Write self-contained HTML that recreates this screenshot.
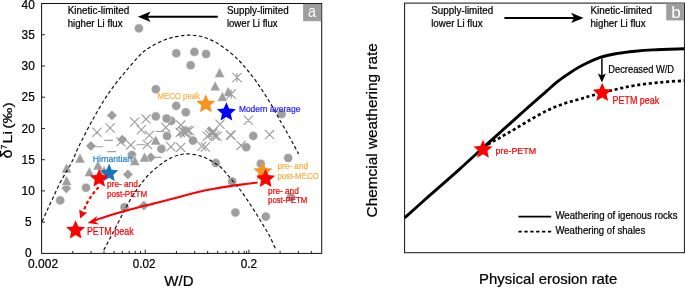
<!DOCTYPE html>
<html><head><meta charset="utf-8"><title>Li isotope weathering regimes</title>
<style>html,body{margin:0;padding:0;background:#fff}svg{display:block}text{font-family:"Liberation Sans",sans-serif;stroke-width:0.22px}text[fill="#000"],g[fill="#000"] text{stroke:#000}text[fill="#ff0000"]{stroke:#ff0000}text[fill="#fbb040"]{stroke:#fbb040}text[fill="#1c1cff"]{stroke:#1c1cff}text[fill="#2581d4"]{stroke:#2581d4}svg{will-change:transform}</style></head><body>
<svg width="685" height="288" viewBox="0 0 685 288">
<rect width="685" height="288" fill="#fff"/>
<g fill="#9e9e9e" stroke="#fff" stroke-width="0.5">
<circle cx="138.9" cy="28.4" r="4.55"/>
<circle cx="176.3" cy="53.3" r="4.55"/>
<circle cx="194.4" cy="51.9" r="4.55"/>
<circle cx="206.1" cy="54" r="4.55"/>
<circle cx="190.7" cy="65.3" r="4.55"/>
<circle cx="155.8" cy="89.2" r="4.55"/>
<circle cx="176.2" cy="105.9" r="4.55"/>
<circle cx="185.8" cy="112.2" r="4.55"/>
<circle cx="171.3" cy="120.9" r="4.55"/>
<circle cx="155.8" cy="116.4" r="4.55"/>
<circle cx="166.6" cy="118.5" r="4.55"/>
<circle cx="167" cy="136" r="4.55"/>
<circle cx="193" cy="140.6" r="4.55"/>
<circle cx="161.4" cy="148.9" r="4.55"/>
<circle cx="131.9" cy="155" r="4.55"/>
<circle cx="253.3" cy="135.9" r="4.55"/>
<circle cx="246.3" cy="147.2" r="4.55"/>
<circle cx="281.6" cy="114" r="4.55"/>
<circle cx="288.2" cy="158" r="4.55"/>
<circle cx="260.8" cy="163.7" r="4.55"/>
<circle cx="215.8" cy="163" r="4.55"/>
<circle cx="232.2" cy="181.5" r="4.55"/>
<circle cx="291" cy="197.3" r="4.55"/>
<circle cx="235.4" cy="212.5" r="4.55"/>
<circle cx="265.8" cy="216.6" r="4.55"/>
<circle cx="86" cy="187.7" r="4.55"/>
<circle cx="60.2" cy="200.4" r="4.55"/>
<circle cx="124.5" cy="207.2" r="4.55"/>
<polygon points="111.9,110.2 117.1,115.4 111.9,120.6 106.7,115.4"/>
<polygon points="122.2,134.5 127.4,139.7 122.2,144.9 117,139.7"/>
<polygon points="90.9,140.7 96.1,145.9 90.9,151.1 85.7,145.9"/>
<polygon points="150.8,152.2 156,157.4 150.8,162.6 145.6,157.4"/>
<polygon points="127.9,169.2 133.1,174.4 127.9,179.6 122.7,174.4"/>
<polygon points="66.3,183 71.5,188.2 66.3,193.4 61.1,188.2"/>
<polygon points="143.9,200.4 149.1,205.6 143.9,210.8 138.7,205.6"/>
<polygon points="219.6,67.6 214.45,77.5 224.75,77.5"/>
<polygon points="215.2,80.9 210.05,90.8 220.35,90.8"/>
<polygon points="228.3,86.5 223.15,96.4 233.45,96.4"/>
<polygon points="222.4,91.4 217.25,101.3 227.55,101.3"/>
<polygon points="155.8,135 150.65,144.9 160.95,144.9"/>
<polygon points="80,153 74.85,162.9 85.15,162.9"/>
<polygon points="66.5,163 61.35,172.9 71.65,172.9"/>
<polygon points="66.6,175.5 61.45,185.4 71.75,185.4"/>
<polygon points="89.4,166.7 84.25,176.6 94.55,176.6"/>
<polygon points="98,160.1 92.85,170 103.15,170"/>
<polygon points="104,165.5 98.85,175.4 109.15,175.4"/>
<polygon points="134.8,155.6 129.65,165.5 139.95,165.5"/>
<polygon points="144.5,152.1 139.35,162 149.65,162"/>
</g>
<path d="M92.4 127.7L101.6 136.9M92.4 136.9L101.6 127.7M105.5 123.4L114.7 132.6M105.5 132.6L114.7 123.4M130.1 117.4L139.3 126.6M130.1 126.6L139.3 117.4M141.5 114.5L150.7 123.7M141.5 123.7L150.7 114.5M136.7 125.1L145.9 134.3M136.7 134.3L145.9 125.1M144.8 130.6L154 139.8M144.8 139.8L154 130.6M116.4 137.2L125.6 146.4M116.4 146.4L125.6 137.2M126.2 140.3L135.4 149.5M126.2 149.5L135.4 140.3M142.8 139.8L152 149M142.8 149L152 139.8M161.2 122.8L170.4 132M161.2 132L170.4 122.8M176.2 120.5L185.4 129.7M176.2 129.7L185.4 120.5M175.7 127.8L184.9 137M175.7 137L184.9 127.8M178.2 126.6L187.4 135.8M178.2 135.8L187.4 126.6M180.4 128.6L189.6 137.8M180.4 137.8L189.6 128.6M182.6 125.8L191.8 135M182.6 135L191.8 125.8M184.7 126.2L193.9 135.4M184.7 135.4L193.9 126.2M215.4 119.7L224.6 128.9M215.4 128.9L224.6 119.7M202.8 131.6L212 140.8M202.8 140.8L212 131.6M205 130L214.2 139.2M205 139.2L214.2 130M206.8 128.4L216 137.6M206.8 137.6L216 128.4M208 127.2L217.2 136.4M208 136.4L217.2 127.2M210 131.2L219.2 140.4M210 140.4L219.2 131.2M212.4 131.6L221.6 140.8M212.4 140.8L221.6 131.6M225.8 130.4L235 139.6M225.8 139.6L235 130.4M166.2 142.2L175.4 151.4M166.2 151.4L175.4 142.2M176.1 142.8L185.3 152M176.1 152L185.3 142.8M197.2 141.7L206.4 150.9M197.2 150.9L206.4 141.7M200.7 142.4L209.9 151.6M200.7 151.6L209.9 142.4M243.8 115.7L253 124.9M243.8 124.9L253 115.7M226.5 130.6L235.7 139.8M226.5 139.8L235.7 130.6M265 130L274.2 139.2M265 139.2L274.2 130M236.4 140.8L245.6 150M236.4 150L245.6 140.8M207.4 127.9L216.6 137.1M207.4 137.1L216.6 127.9M208.7 126.6L217.9 135.8M208.7 135.8L217.9 126.6M208.3 128.8L217.5 138M208.3 138L217.5 128.8M181.4 127.6L190.6 136.8M181.4 136.8L190.6 127.6M179.4 127.4L188.6 136.6M179.4 136.6L188.6 127.4M232.4 72.9L241.6 82.1M232.4 82.1L241.6 72.9M237 72.9L237 82.1M226.6 89.5L235.8 98.7M226.6 98.7L235.8 89.5M231.2 89.5L231.2 98.7M155.8 131.5L164.4 131.5M104.3 140.4L113 140.4M94.8 146.7L103.2 146.7M136.4 144.7L145.2 144.7M107.3 151.6L116.1 151.6M153.4 157.4L161.6 157.4" fill="none" stroke="#9e9e9e" stroke-width="1.15"/>
<path d="M42.2 221.5C43.08 219.5 45.62 213.62 47.5 209.5C49.38 205.38 51.38 201.3 53.5 196.8C55.62 192.3 57.93 186.88 60.2 182.5C62.47 178.12 64.98 174.28 67.1 170.5C69.22 166.72 71.25 163.17 72.9 159.8C74.55 156.43 75.5 153.55 77 150.3C78.5 147.05 79.32 145.35 81.9 140.3C84.48 135.25 88.73 126.8 92.5 120C96.27 113.2 100.75 105.42 104.5 99.5C108.25 93.58 111.42 89.25 115 84.5C118.58 79.75 121.83 75.92 126 71C130.17 66.08 136 58.97 140 55C144 51.03 145.83 49.73 150 47.2C154.17 44.67 160.33 41.62 165 39.8C169.67 37.98 173.92 37.08 178 36.3C182.08 35.52 185.5 35.03 189.5 35.1C193.5 35.17 197.75 35.55 202 36.7C206.25 37.85 210.67 39.65 215 42C219.33 44.35 224.12 47.83 228 50.8C231.88 53.77 235.13 56.67 238.3 59.8C241.47 62.93 243.95 65.9 247 69.6C250.05 73.3 253.53 77.73 256.6 82C259.67 86.27 262.62 90.83 265.4 95.2C268.18 99.57 270.87 103.98 273.3 108.2C275.73 112.42 277.67 116.37 280 120.5C282.33 124.63 285.13 129.17 287.3 133C289.47 136.83 291.12 140 293 143.5C294.88 147 297.67 152.25 298.6 154" fill="none" stroke="#111" stroke-width="1.2" stroke-dasharray="3.5 2.5"/>
<path d="M103.8 250C104.25 249.17 105.13 247.58 106.5 245C107.87 242.42 109.92 238.5 112 234.5C114.08 230.5 116.75 225.33 119 221C121.25 216.67 123.33 212.53 125.5 208.5C127.67 204.47 129.58 200.68 132 196.8C134.42 192.92 137.18 188.93 140 185.2C142.82 181.47 145.57 177.78 148.9 174.4C152.23 171.02 156.95 167.32 160 164.9C163.05 162.48 164.37 161.47 167.2 159.9C170.03 158.33 173.58 156.52 177 155.5C180.42 154.48 183.87 153.73 187.7 153.8C191.53 153.87 196.62 155 200 155.9C203.38 156.8 205.37 157.88 208 159.2C210.63 160.52 213.43 162.23 215.8 163.8C218.17 165.37 219.3 165.62 222.2 168.6C225.1 171.58 230.23 178.22 233.2 181.7C236.17 185.18 237.43 186.12 240 189.5C242.57 192.88 245.77 197.75 248.6 202C251.43 206.25 254.53 211.08 257 215C259.47 218.92 261.3 222 263.4 225.5C265.5 229 267.52 231.95 269.6 236C271.68 240.05 274.85 247.5 275.9 249.8" fill="none" stroke="#111" stroke-width="1.2" stroke-dasharray="3.5 2.5"/>
<path d="M257.6 182.5C255.95 182.72 252.27 183.2 247.7 183.8C243.13 184.4 236.05 185.23 230.2 186.1C224.35 186.97 218.45 187.9 212.6 189C206.75 190.1 200.95 191.3 195.1 192.7C189.25 194.1 183.35 195.85 177.5 197.4C171.65 198.95 164.55 200.83 160 202C155.45 203.17 153.3 203.63 150.2 204.4C147.1 205.17 145.78 205.47 141.4 206.6C137.02 207.73 129.75 209.57 123.9 211.2C118.05 212.83 110.7 215.03 106.3 216.4C101.9 217.77 99.63 218.65 97.5 219.4C95.37 220.15 94.17 220.65 93.5 220.9" fill="none" stroke="#ff0000" stroke-width="2.1"/>
<polygon points="87.6,223 97.2,215.9 94.9,221.3 99,224.6" fill="#ff0000"/>
<path d="M98.6 187.2 C95 191 88 199 84.2 209.5" fill="none" stroke="#ff0000" stroke-width="2.1" stroke-dasharray="3.4 2.4"/>
<polygon points="80.2,218.5 79.2,209.6 83.4,211.9 87.2,212.4" fill="#ff0000"/>
<polygon points="205.8,94.2 208.5,100.48 215.31,101.11 210.17,105.62 211.68,112.29 205.8,108.8 199.92,112.29 201.43,105.62 196.29,101.11 203.1,100.48" fill="#f7941d"/>
<polygon points="226.4,102.3 229.1,108.58 235.91,109.21 230.77,113.72 232.28,120.39 226.4,116.9 220.52,120.39 222.03,113.72 216.89,109.21 223.7,108.58" fill="#0000ff"/>
<polygon points="109.1,163.6 111.72,169.69 118.33,170.3 113.34,174.68 114.8,181.15 109.1,177.76 103.4,181.15 104.86,174.68 99.87,170.3 106.48,169.69" fill="#1c75bc"/>
<polygon points="99.2,168.7 101.88,174.92 108.62,175.54 103.53,180.01 105.02,186.61 99.2,183.15 93.38,186.61 94.87,180.01 89.78,175.54 96.52,174.92" fill="#ff0000"/>
<polygon points="262.8,161.6 265.5,167.88 272.31,168.51 267.17,173.02 268.68,179.69 262.8,176.2 256.92,179.69 258.43,173.02 253.29,168.51 260.1,167.88" fill="#f7941d"/>
<polygon points="265.6,168.8 268.3,175.08 275.11,175.71 269.97,180.22 271.48,186.89 265.6,183.4 259.72,186.89 261.23,180.22 256.09,175.71 262.9,175.08" fill="#ff0000"/>
<polygon points="75.6,220.3 78.3,226.58 85.11,227.21 79.97,231.72 81.48,238.39 75.6,234.9 69.72,238.39 71.23,231.72 66.09,227.21 72.9,226.58" fill="#ff0000"/>
<rect x="41.6" y="3.5" width="280.1" height="249.9" fill="none" stroke="#111" stroke-width="1"/>
<path d="M41.6 222.16h3.4M41.6 190.93h3.4M41.6 159.69h3.4M41.6 128.45h3.4M41.6 97.21h3.4M41.6 65.97h3.4M41.6 34.74h3.4M72.8 253.4v-2.6M91.05 253.4v-2.6M104 253.4v-2.6M114.05 253.4v-2.6M122.26 253.4v-2.6M129.19 253.4v-2.6M135.21 253.4v-2.6M140.51 253.4v-2.6M176.45 253.4v-2.6M194.7 253.4v-2.6M207.65 253.4v-2.6M217.7 253.4v-2.6M225.91 253.4v-2.6M232.84 253.4v-2.6M238.86 253.4v-2.6M244.16 253.4v-2.6M246.59 253.4v-2.6M280.1 253.4v-2.6M298.35 253.4v-2.6M311.3 253.4v-2.6M145.25 253.4v-3.8M248.9 253.4v-3.8" fill="none" stroke="#111" stroke-width="0.9"/>
<text x="28.2" y="256.8" font-size="11.9" fill="#000" text-anchor="middle">0</text>
<text x="28.2" y="226.41" font-size="11.9" fill="#000" text-anchor="middle">5</text>
<text x="28.2" y="195.18" font-size="11.9" fill="#000" text-anchor="middle">10</text>
<text x="28.2" y="163.94" font-size="11.9" fill="#000" text-anchor="middle">15</text>
<text x="28.2" y="132.7" font-size="11.9" fill="#000" text-anchor="middle">20</text>
<text x="28.2" y="101.46" font-size="11.9" fill="#000" text-anchor="middle">25</text>
<text x="28.2" y="70.22" font-size="11.9" fill="#000" text-anchor="middle">30</text>
<text x="28.2" y="38.99" font-size="11.9" fill="#000" text-anchor="middle">35</text>
<text x="28.2" y="8.9" font-size="11.9" fill="#000" text-anchor="middle">40</text>
<text x="43.1" y="267.9" font-size="11.9" fill="#000" text-anchor="middle" textLength="30" lengthAdjust="spacingAndGlyphs">0.002</text>
<text x="144.1" y="267.9" font-size="11.9" fill="#000" text-anchor="middle" textLength="22.6" lengthAdjust="spacingAndGlyphs">0.02</text>
<text x="248.9" y="267.9" font-size="11.9" fill="#000" text-anchor="middle" textLength="16.3" lengthAdjust="spacingAndGlyphs">0.2</text>
<text x="164.3" y="285.6" font-size="14.2" fill="#000" textLength="29.2" lengthAdjust="spacingAndGlyphs">W/D</text>
<g transform="translate(11.9 158.2) rotate(-90)" fill="#000">
<text x="-0.4" y="0" font-size="16.2">&#948;</text>
<text x="9.0" y="-5.0" font-size="8.2">7</text>
<text x="14.8" y="0" font-size="13.4" textLength="12.4" lengthAdjust="spacingAndGlyphs">Li</text>
<text x="29.5" y="0" font-size="13.4" textLength="26.4" lengthAdjust="spacingAndGlyphs">(&#8240;)</text>
</g>
<text x="67.7" y="14.4" font-size="10.1" fill="#000" textLength="61.7" lengthAdjust="spacingAndGlyphs">Kinetic-limited</text>
<text x="67.7" y="26.5" font-size="10.1" fill="#000" textLength="54.8" lengthAdjust="spacingAndGlyphs">higher Li flux</text>
<text x="226.9" y="14.4" font-size="10.1" fill="#000" textLength="61.8" lengthAdjust="spacingAndGlyphs">Supply-limited</text>
<text x="226.9" y="26.5" font-size="10.1" fill="#000" textLength="50.7" lengthAdjust="spacingAndGlyphs">lower Li flux</text>
<path d="M217.8 16.7H146" stroke="#000" stroke-width="2.1" fill="none"/>
<polygon points="137.9,16.7 150.6,11.5 147.5,16.7 150.6,21.9" fill="#000"/>
<text x="157.5" y="98.6" font-size="8.9" fill="#fbb040" textLength="42.5" lengthAdjust="spacingAndGlyphs">MECO peak</text>
<text x="238.9" y="111.6" font-size="8.9" fill="#1c1cff" textLength="61.5" lengthAdjust="spacingAndGlyphs">Modern average</text>
<text x="92.8" y="161.9" font-size="8.9" fill="#2581d4" textLength="39.2" lengthAdjust="spacingAndGlyphs">Hirnantian</text>
<text x="107" y="186.6" font-size="8.9" fill="#ff0000" textLength="31" lengthAdjust="spacingAndGlyphs">pre- and</text>
<text x="107" y="196.5" font-size="8.9" fill="#ff0000" textLength="40.1" lengthAdjust="spacingAndGlyphs">post-PETM</text>
<text x="86.9" y="234.7" font-size="10" fill="#ff0000" textLength="46.8" lengthAdjust="spacingAndGlyphs">PETM peak</text>
<text x="277.4" y="168.5" font-size="8.9" fill="#fbb040" textLength="30.7" lengthAdjust="spacingAndGlyphs">pre- and</text>
<text x="277.4" y="178.7" font-size="8.9" fill="#fbb040" textLength="41.4" lengthAdjust="spacingAndGlyphs">post-MECO</text>
<text x="268.1" y="193.6" font-size="8.9" fill="#ff0000" textLength="30.7" lengthAdjust="spacingAndGlyphs">pre- and</text>
<text x="268.1" y="203.4" font-size="8.9" fill="#ff0000" textLength="39.3" lengthAdjust="spacingAndGlyphs">post-PETM</text>
<rect x="303.1" y="3.9" width="18.1" height="17.3" fill="#9e9e9e"/>
<text x="312.1" y="17.15" font-size="16.4" fill="#fff" text-anchor="middle" textLength="8" lengthAdjust="spacingAndGlyphs">a</text>
<path d="M483 148C484.47 147 489.23 143.57 491.8 142C494.37 140.43 496.2 139.82 498.4 138.6C500.6 137.38 502.8 135.97 505 134.7C507.2 133.43 507.82 133.23 511.6 131C515.38 128.77 521.68 124.77 527.7 121.3C533.72 117.83 541.43 113.22 547.7 110.2C553.97 107.18 560.03 105.03 565.3 103.2C570.57 101.37 574.97 100.45 579.3 99.2C583.63 97.95 585.5 97.27 591.3 95.7C597.1 94.13 606.78 91.52 614.1 89.8C621.42 88.08 627.6 86.63 635.2 85.4C642.8 84.17 651.52 83.2 659.7 82.4C667.88 81.6 680.2 80.9 684.3 80.6" fill="none" stroke="#000" stroke-width="2.7" stroke-dasharray="3.1 2.7"/>
<path d="M404.6 217.9C408.83 214.12 420.97 203.22 430 195.2C439.03 187.18 449.38 178.23 458.8 169.8C468.22 161.37 477.88 152.37 486.5 144.6C495.12 136.83 504.25 128.8 510.5 123.2C516.75 117.6 519.27 115.23 524 111C528.73 106.77 535.05 101.18 538.9 97.8C542.75 94.42 544.17 93.28 547.1 90.7C550.03 88.12 553.6 84.67 556.5 82.3C559.4 79.93 561.87 78.35 564.5 76.5C567.13 74.65 569.3 73.07 572.3 71.2C575.3 69.33 577.87 67.6 582.5 65.3C587.13 63 594.25 59.38 600.1 57.4C605.95 55.42 611.75 54.43 617.6 53.4C623.45 52.37 629.35 51.78 635.2 51.2C641.05 50.62 644.52 50.32 652.7 49.9C660.88 49.48 679.03 48.9 684.3 48.7" fill="none" stroke="#000" stroke-width="2.9"/>
<path d="M601.9 58.5V77" stroke="#000" stroke-width="1.5" fill="none"/>
<polygon points="601.9,82.4 597.9,73.6 601.9,75.6 605.9,73.6" fill="#000"/>
<polygon points="602.2,82.8 604.9,89.08 611.71,89.71 606.57,94.22 608.08,100.89 602.2,97.4 596.32,100.89 597.83,94.22 592.69,89.71 599.5,89.08" fill="#ff0000"/>
<polygon points="483,139.7 485.7,145.98 492.51,146.61 487.37,151.12 488.88,157.79 483,154.3 477.12,157.79 478.63,151.12 473.49,146.61 480.3,145.98" fill="#ff0000"/>
<rect x="404.6" y="3.1" width="279.8" height="249.6" fill="none" stroke="#111" stroke-width="1"/>
<text x="431.2" y="14.3" font-size="10.1" fill="#000" textLength="62.1" lengthAdjust="spacingAndGlyphs">Supply-limited</text>
<text x="431.2" y="26.5" font-size="10.1" fill="#000" textLength="51.3" lengthAdjust="spacingAndGlyphs">lower Li flux</text>
<text x="590.4" y="14.4" font-size="10.1" fill="#000" textLength="61.7" lengthAdjust="spacingAndGlyphs">Kinetic-limited</text>
<text x="590.4" y="26.5" font-size="10.1" fill="#000" textLength="55.2" lengthAdjust="spacingAndGlyphs">higher Li flux</text>
<path d="M504.4 17.9H576" stroke="#000" stroke-width="2.0" fill="none"/>
<polygon points="583.6,17.9 571.1,12.8 574.2,17.9 571.1,23" fill="#000"/>
<text x="608.3" y="73.2" font-size="10.1" fill="#000" textLength="65.8" lengthAdjust="spacingAndGlyphs">Decreased W/D</text>
<text x="612.5" y="103.6" font-size="10" fill="#ff0000" textLength="46.7" lengthAdjust="spacingAndGlyphs">PETM peak</text>
<text x="495.5" y="154" font-size="9.9" fill="#ff0000" textLength="40.7" lengthAdjust="spacingAndGlyphs">pre-PETM</text>
<path d="M518.5 216.6H551.2" stroke="#000" stroke-width="1.7" fill="none"/>
<path d="M518.5 231.7H551.2" stroke="#000" stroke-width="1.7" stroke-dasharray="3.3 2.58" fill="none"/>
<text x="555.4" y="219.3" font-size="10" fill="#000" textLength="122.1" lengthAdjust="spacingAndGlyphs">Weathering of igenous rocks</text>
<text x="555.4" y="234.3" font-size="10" fill="#000" textLength="89.8" lengthAdjust="spacingAndGlyphs">Weathering of shales</text>
<rect x="666.2" y="3.5" width="17.7" height="16.9" fill="#9e9e9e"/>
<text x="676.1" y="17.75" font-size="17.2" fill="#fff" text-anchor="middle">b</text>
<text x="479.1" y="284.2" font-size="14.1" fill="#000" textLength="138.2" lengthAdjust="spacingAndGlyphs">Physical erosion rate</text>
<g transform="translate(377.3 217.4) rotate(-90)">
<text x="0" y="0" font-size="14.3" fill="#000" textLength="174.2" lengthAdjust="spacingAndGlyphs">Chemcial weathering rate</text>
</g>
</svg></body></html>
